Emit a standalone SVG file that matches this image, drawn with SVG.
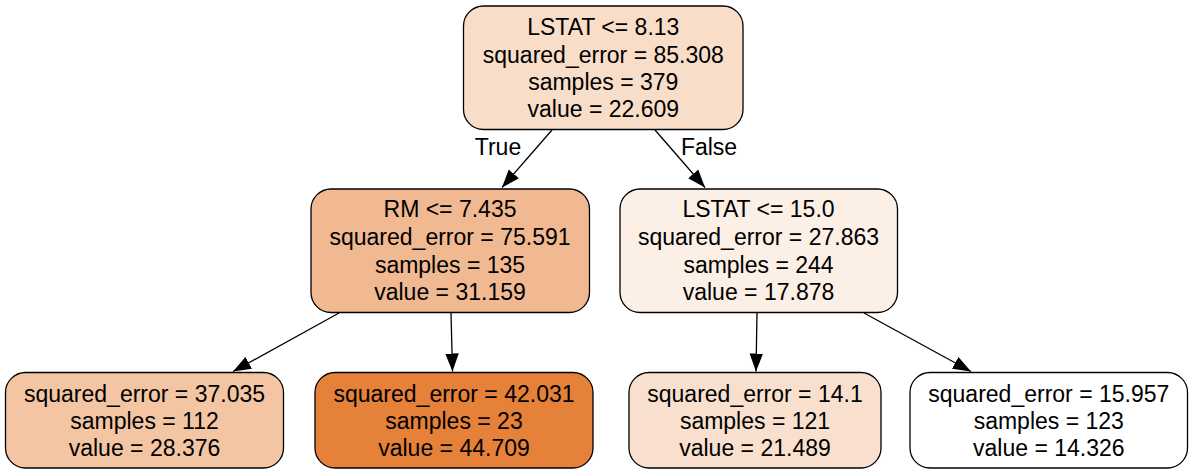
<svg xmlns="http://www.w3.org/2000/svg" width="1191" height="475" viewBox="0 0 1191 475">
<defs>
<style>
.box{stroke:#000;stroke-width:1.3}
text{font-family:"Liberation Sans",Arial,Helvetica,sans-serif;font-size:23px;fill:#000;text-anchor:middle}
.edge{stroke:#000;stroke-width:1.3;fill:none;marker-end:url(#ah)}
</style>
<marker id="ah" markerUnits="userSpaceOnUse" markerWidth="19" markerHeight="14" refX="18" refY="6.75" orient="auto">
<path d="M0,0 L18,6.75 L0,13.5 z" fill="#000"/>
</marker>
</defs>
<rect width="1191" height="475" fill="#fff"/>
<g id="connectors">
<line class="edge" x1="552" y1="130" x2="502" y2="187.5"/>
<line class="edge" x1="655" y1="130" x2="705" y2="187.5"/>
<line class="edge" x1="339" y1="313" x2="233" y2="371.5"/>
<line class="edge" x1="451" y1="313" x2="452.5" y2="371.5"/>
<line class="edge" x1="757" y1="313" x2="756" y2="371.5"/>
<line class="edge" x1="864" y1="313" x2="971" y2="371.5"/>
<text x="498" y="155">True</text>
<text x="709" y="155">False</text>
</g>
<g id="node0">
<rect class="box" x="463.5" y="6" width="279.5" height="123.5" rx="20" fill="#f8ddc9"/>
<text x="603.3" y="35">LSTAT &lt;= 8.13</text>
<text x="603.3" y="62.5">squared_error = 85.308</text>
<text x="603.3" y="90">samples = 379</text>
<text x="603.3" y="117">value = 22.609</text>
</g>
<g id="node1">
<rect class="box" x="311" y="189" width="278.5" height="123.5" rx="20" fill="#f1b991"/>
<text x="450" y="217">RM &lt;= 7.435</text>
<text x="450" y="245">squared_error = 75.591</text>
<text x="450" y="272.5">samples = 135</text>
<text x="450" y="300">value = 31.159</text>
</g>
<g id="node2">
<rect class="box" x="5.5" y="372.5" width="278" height="95.5" rx="20" fill="#f3c5a3"/>
<text x="144.5" y="401.5">squared_error = 37.035</text>
<text x="144.5" y="428.5">samples = 112</text>
<text x="144.5" y="455.5">value = 28.376</text>
</g>
<g id="node3">
<rect class="box" x="315" y="372.5" width="278" height="95.5" rx="20" fill="#e58139"/>
<text x="454" y="401.5">squared_error = 42.031</text>
<text x="454" y="428.5">samples = 23</text>
<text x="454" y="455.5">value = 44.709</text>
</g>
<g id="node4">
<rect class="box" x="620" y="189" width="277.5" height="123.5" rx="20" fill="#fcefe6"/>
<text x="758.5" y="217">LSTAT &lt;= 15.0</text>
<text x="758.5" y="245">squared_error = 27.863</text>
<text x="758.5" y="272.5">samples = 244</text>
<text x="758.5" y="300">value = 17.878</text>
</g>
<g id="node5">
<rect class="box" x="629" y="372.5" width="252" height="95.5" rx="20" fill="#f9e0ce"/>
<text x="755" y="401.5">squared_error = 14.1</text>
<text x="755" y="428.5">samples = 121</text>
<text x="755" y="455.5">value = 21.489</text>
</g>
<g id="node6">
<rect class="box" x="910" y="372.5" width="277.5" height="95.5" rx="20" fill="#ffffff"/>
<text x="1048.8" y="401.5">squared_error = 15.957</text>
<text x="1048.8" y="428.5">samples = 123</text>
<text x="1048.8" y="455.5">value = 14.326</text>
</g>
</svg>
